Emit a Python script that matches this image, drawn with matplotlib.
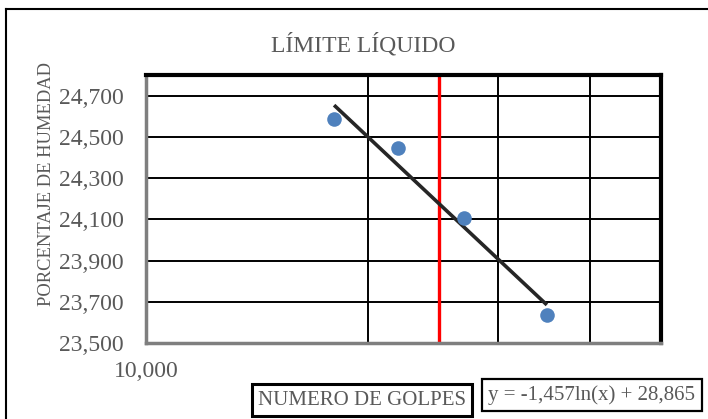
import numpy as np
import matplotlib
matplotlib.use("Agg")
import matplotlib.pyplot as plt
from matplotlib.ticker import FuncFormatter, FixedLocator, NullLocator

plt.rcParams['font.family'] = ['Liberation Serif', 'DejaVu Serif']

# data
golpes = [18, 22, 27, 35]
humedad = [24.588, 24.446, 24.105, 23.637]
coef_a = -1.457
coef_b = 28.865
golpes_25 = 25
y_ticks = [23.5, 23.7, 23.9, 24.1, 24.3, 24.5, 24.7]
x_grid = [20, 30, 40]

gris = '#595959'
W, H = 708, 419

fig = plt.figure(figsize=(7.08, 4.19), dpi=100)
ax = fig.add_axes([146 / W, 1 - 343 / H, 515 / W, 268 / H])

ax.set_xscale('log')
ax.set_xlim(10, 50)
ax.set_ylim(23.5, 24.8)

# grid
ax.yaxis.set_major_locator(FixedLocator(y_ticks))
ax.xaxis.set_major_locator(FixedLocator([10]))
ax.xaxis.set_minor_locator(NullLocator())
for g in x_grid:
    ax.axvline(g, color='black', lw=1.4, zorder=1)
for t in y_ticks[1:]:
    ax.axhline(t, color='black', lw=1.4, zorder=1)

def coma(v, pos):
    return f"{v:.3f}".replace('.', ',')

ax.yaxis.set_major_formatter(FuncFormatter(coma))
ax.xaxis.set_major_formatter(FuncFormatter(coma))
ax.tick_params(axis='both', length=0, labelsize=17, labelcolor=gris)
ax.tick_params(axis='y', pad=16)
ax.tick_params(axis='x', pad=13)

# red line at 25 blows
ax.axvline(golpes_25, color='#ff0000', lw=2.4, zorder=2)

# trendline
xt = np.linspace(min(golpes), max(golpes), 50)
ax.plot(xt, coef_a * np.log(xt) + coef_b, color='#262626', lw=2.6, zorder=3,
        solid_capstyle='butt')

ax.scatter(golpes, humedad, s=110, color='#4f81bd', zorder=4, linewidths=0)

for s in ['top', 'right']:
    ax.spines[s].set_linewidth(3)
    ax.spines[s].set_color('black')
for s in ['left', 'bottom']:
    ax.spines[s].set_linewidth(2.5)
    ax.spines[s].set_color('#7f7f7f')

# outer chart border (top and left visible)
fig.add_artist(plt.Line2D([6 / W, 1], [1 - 9 / H, 1 - 9 / H], color='black', lw=1.5))
fig.add_artist(plt.Line2D([6 / W, 6 / W], [0, 1 - 9 / H], color='black', lw=1.5))

fig.text(363 / W, 1 - 45 / H, 'LÍMITE LÍQUIDO', ha='center', va='center',
         fontsize=17, color=gris)
fig.text(47 / W, 1 - 184 / H, 'PORCENTAJE DE HUMEDAD', ha='center', va='center',
         rotation=90, fontsize=13.3, color=gris)
fig.text(362 / W, 1 - 400 / H, 'NUMERO DE GOLPES', ha='center', va='center',
         fontsize=15, color=gris,
         bbox=dict(boxstyle='square,pad=0.3', fc='white', ec='black', lw=2.2))
fig.text(592 / W, 1 - 395 / H, 'y = -1,457ln(x) + 28,865', ha='center', va='center',
         fontsize=15, color=gris,
         bbox=dict(boxstyle='square,pad=0.3', fc='white', ec='black', lw=1.6))

fig.savefig('out.png', dpi=100)
